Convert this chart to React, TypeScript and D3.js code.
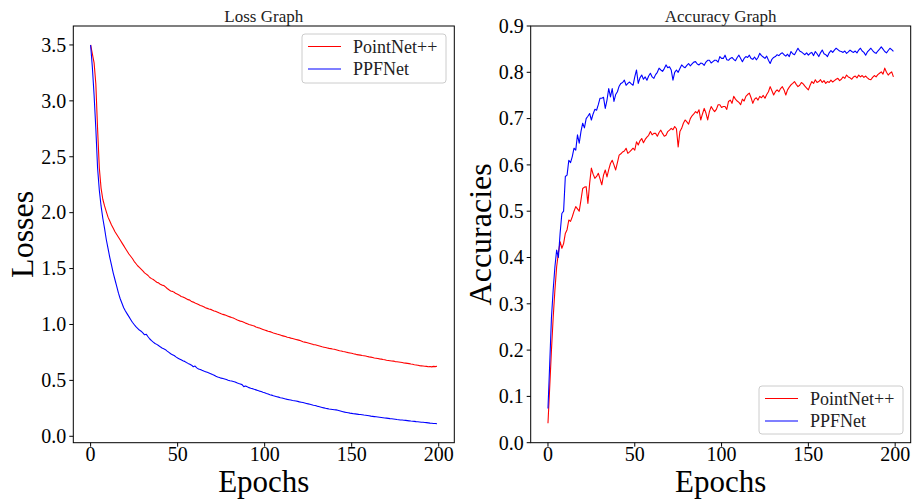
import React from "react";
import * as d3 from "d3";

const lossPointNet = [
  3.50, 3.42, 3.34, 3.15, 2.75, 2.40, 2.22, 2.12, 2.06, 2.01,
  1.96, 1.925, 1.89, 1.86, 1.83, 1.805, 1.78, 1.755, 1.73, 1.705,
  1.68, 1.655, 1.63, 1.61, 1.59, 1.565, 1.545, 1.525, 1.51, 1.495,
  1.48, 1.462, 1.45, 1.438, 1.42, 1.41, 1.402, 1.39, 1.378, 1.372,
  1.36, 1.352, 1.348, 1.336, 1.322, 1.31, 1.30, 1.296, 1.288, 1.276,
  1.27, 1.262, 1.25, 1.246, 1.238, 1.23, 1.222, 1.218, 1.205, 1.2,
  1.192, 1.186, 1.178, 1.17, 1.165, 1.158, 1.15, 1.144, 1.138, 1.135,
  1.128, 1.12, 1.117, 1.11, 1.102, 1.095, 1.09, 1.086, 1.08, 1.074,
  1.068, 1.062, 1.058, 1.05, 1.042, 1.036, 1.03, 1.026, 1.02, 1.012,
  1.006, 1.0, 0.996, 0.99, 0.986, 0.978, 0.972, 0.968, 0.962, 0.956,
  0.95, 0.945, 0.94, 0.936, 0.93, 0.924, 0.92, 0.914, 0.91, 0.905,
  0.9, 0.896, 0.892, 0.886, 0.883, 0.878, 0.874, 0.87, 0.866, 0.862,
  0.858, 0.852, 0.846, 0.842, 0.838, 0.834, 0.83, 0.826, 0.82, 0.818,
  0.814, 0.81, 0.806, 0.8, 0.797, 0.794, 0.79, 0.786, 0.784, 0.78,
  0.778, 0.774, 0.77, 0.765, 0.762, 0.758, 0.756, 0.752, 0.748, 0.745,
  0.742, 0.738, 0.735, 0.73, 0.728, 0.726, 0.722, 0.72, 0.718, 0.714,
  0.71, 0.708, 0.704, 0.7, 0.698, 0.695, 0.692, 0.69, 0.686, 0.684,
  0.68, 0.678, 0.676, 0.674, 0.672, 0.668, 0.666, 0.664, 0.662, 0.66,
  0.656, 0.654, 0.652, 0.65, 0.646, 0.644, 0.64, 0.638, 0.635, 0.632,
  0.63, 0.628, 0.626, 0.625, 0.622, 0.624, 0.621, 0.625, 0.623, 0.626,
];

const lossPPFNet = [
  3.50, 3.30, 3.05, 2.75, 2.40, 2.20, 2.06, 1.95, 1.86, 1.76,
  1.68, 1.60, 1.53, 1.46, 1.40, 1.34, 1.28, 1.23, 1.19, 1.15,
  1.12, 1.095, 1.07, 1.045, 1.02, 1.0, 0.98, 0.965, 0.95, 0.94,
  0.925, 0.908, 0.912, 0.89, 0.87, 0.855, 0.842, 0.83, 0.822, 0.812,
  0.80, 0.79, 0.782, 0.775, 0.762, 0.75, 0.738, 0.73, 0.722, 0.71,
  0.70, 0.692, 0.684, 0.676, 0.67, 0.66, 0.652, 0.645, 0.636, 0.622,
  0.628, 0.612, 0.602, 0.598, 0.59, 0.583, 0.578, 0.572, 0.566, 0.56,
  0.552, 0.545, 0.536, 0.53, 0.526, 0.52, 0.516, 0.512, 0.508, 0.502,
  0.497, 0.494, 0.49, 0.486, 0.478, 0.472, 0.468, 0.462, 0.444, 0.45,
  0.442, 0.435, 0.43, 0.426, 0.42, 0.415, 0.41, 0.404, 0.4, 0.394,
  0.39, 0.383, 0.378, 0.372, 0.368, 0.362, 0.358, 0.354, 0.35, 0.345,
  0.342, 0.338, 0.334, 0.33, 0.327, 0.324, 0.32, 0.318, 0.315, 0.312,
  0.308, 0.305, 0.302, 0.298, 0.294, 0.29, 0.286, 0.282, 0.278, 0.275,
  0.27, 0.266, 0.262, 0.258, 0.254, 0.25, 0.247, 0.244, 0.242, 0.24,
  0.238, 0.236, 0.232, 0.228, 0.224, 0.22, 0.216, 0.213, 0.21, 0.207,
  0.205, 0.202, 0.2, 0.198, 0.196, 0.195, 0.193, 0.19, 0.188, 0.186,
  0.183, 0.18, 0.178, 0.176, 0.174, 0.172, 0.17, 0.168, 0.166, 0.164,
  0.162, 0.16, 0.158, 0.157, 0.155, 0.153, 0.15, 0.148, 0.146, 0.145,
  0.143, 0.142, 0.14, 0.138, 0.136, 0.135, 0.133, 0.131, 0.13, 0.128,
  0.126, 0.125, 0.123, 0.122, 0.12, 0.118, 0.117, 0.115, 0.114, 0.112,
];

const accPointNet = [
  0.042, 0.12, 0.20, 0.27, 0.33, 0.38, 0.41, 0.434, 0.42, 0.43,
  0.452, 0.46, 0.481, 0.478, 0.488, 0.50, 0.51, 0.505, 0.50, 0.524,
  0.549, 0.552, 0.553, 0.517, 0.56, 0.593, 0.58, 0.571, 0.575, 0.582,
  0.57, 0.557, 0.578, 0.589, 0.574, 0.59, 0.603, 0.61, 0.60, 0.589,
  0.605, 0.621, 0.624, 0.628, 0.63, 0.636, 0.625, 0.628, 0.632, 0.636,
  0.632, 0.65, 0.643, 0.652, 0.657, 0.648, 0.655, 0.66, 0.664, 0.672,
  0.665, 0.668, 0.668, 0.662, 0.67, 0.675, 0.668, 0.662, 0.664, 0.672,
  0.675, 0.679, 0.676, 0.683, 0.678, 0.639, 0.672, 0.679, 0.69, 0.697,
  0.693, 0.688, 0.70, 0.706, 0.71, 0.715, 0.712, 0.719, 0.697, 0.71,
  0.722, 0.712, 0.697, 0.715, 0.726, 0.72, 0.715, 0.72, 0.73, 0.73,
  0.724, 0.726, 0.726, 0.72, 0.737, 0.74, 0.733, 0.748, 0.742, 0.738,
  0.735, 0.73, 0.742, 0.738, 0.748, 0.752, 0.755, 0.745, 0.733, 0.742,
  0.745, 0.74, 0.748, 0.745, 0.75, 0.744, 0.752, 0.758, 0.769, 0.76,
  0.751, 0.758, 0.762, 0.758, 0.765, 0.769, 0.762, 0.751, 0.762, 0.768,
  0.773, 0.776, 0.78, 0.774, 0.769, 0.772, 0.778, 0.775, 0.77, 0.766,
  0.762, 0.772, 0.78, 0.776, 0.784, 0.778, 0.78, 0.784, 0.778, 0.782,
  0.776, 0.78, 0.778, 0.783, 0.779, 0.782, 0.785, 0.787, 0.782, 0.785,
  0.79, 0.787, 0.794, 0.79, 0.788, 0.785, 0.79, 0.792, 0.788, 0.794,
  0.79, 0.793, 0.789, 0.792, 0.788, 0.785, 0.784, 0.789, 0.793, 0.79,
  0.795, 0.798, 0.801, 0.796, 0.809, 0.80, 0.794, 0.798, 0.801, 0.79,
];

const accPPFNet = [
  0.074, 0.17, 0.27, 0.33, 0.38, 0.416, 0.40, 0.453, 0.495, 0.50,
  0.575, 0.578, 0.61, 0.605, 0.618, 0.636, 0.632, 0.665, 0.647, 0.672,
  0.69, 0.68, 0.70, 0.705, 0.711, 0.697, 0.71, 0.72, 0.718, 0.73,
  0.744, 0.744, 0.746, 0.722, 0.74, 0.765, 0.747, 0.765, 0.737, 0.752,
  0.758, 0.77, 0.776, 0.778, 0.783, 0.772, 0.776, 0.779, 0.775, 0.772,
  0.79, 0.805, 0.776, 0.788, 0.794, 0.785, 0.79, 0.783, 0.792, 0.798,
  0.79, 0.787, 0.795, 0.80, 0.809, 0.805, 0.802, 0.808, 0.816, 0.81,
  0.812, 0.805, 0.783, 0.80, 0.805, 0.80, 0.808, 0.816, 0.812, 0.81,
  0.815, 0.819, 0.814, 0.818, 0.822, 0.823, 0.818, 0.816, 0.82, 0.819,
  0.815, 0.822, 0.826, 0.826, 0.82, 0.823, 0.826, 0.826, 0.822, 0.834,
  0.83, 0.83, 0.837, 0.827, 0.826, 0.83, 0.832, 0.828, 0.825, 0.832,
  0.837, 0.83, 0.823, 0.83, 0.834, 0.832, 0.837, 0.83, 0.828, 0.833,
  0.827, 0.832, 0.841, 0.836, 0.833, 0.83, 0.835, 0.826, 0.819, 0.828,
  0.832, 0.834, 0.838, 0.836, 0.84, 0.842, 0.838, 0.835, 0.839, 0.834,
  0.845, 0.84, 0.838, 0.845, 0.852, 0.846, 0.844, 0.841, 0.838, 0.842,
  0.837, 0.841, 0.843, 0.836, 0.845, 0.84, 0.834, 0.842, 0.848, 0.84,
  0.838, 0.834, 0.842, 0.847, 0.843, 0.848, 0.852, 0.849, 0.846, 0.845,
  0.843, 0.846, 0.841, 0.844, 0.848, 0.845, 0.843, 0.846, 0.842, 0.848,
  0.852, 0.846, 0.843, 0.837, 0.844, 0.848, 0.852, 0.847, 0.843, 0.841,
  0.846, 0.85, 0.855, 0.85, 0.845, 0.842, 0.847, 0.852, 0.849, 0.845,
];

const seriesNames = ["PointNet++", "PPFNet"];
const seriesColors = ["#ff0000", "#0000ff"];
const xTicks = [0, 50, 100, 150, 200];
const lossTicks = [0, 0.5, 1, 1.5, 2, 2.5, 3, 3.5];
const accTicks = [0, 0.1, 0.2, 0.3, 0.4, 0.5, 0.6, 0.7, 0.8, 0.9];

const FONT = "'Liberation Serif', 'DejaVu Serif', serif";

type PanelProps = {
  left: number;
  right: number;
  top: number;
  bottom: number;
  yDomain: [number, number];
  yTicks: number[];
  series: number[][];
  title: string;
  ylabel: string;
  ylabelX: number;
  legend: { x: number; y: number; w: number; h: number };
};

function Panel(p: PanelProps) {
  const n = p.series[0].length;
  const xPad = (n - 1) * 0.05;
  const x = d3.scaleLinear().domain([-xPad, n - 1 + xPad]).range([p.left, p.right]);
  const y = d3.scaleLinear().domain(p.yDomain).range([p.bottom, p.top]);
  const line = d3
    .line<number>()
    .x((_, i) => x(i))
    .y((d) => y(d));
  const cx = (p.left + p.right) / 2;
  const cy = (p.top + p.bottom) / 2;
  const lg = p.legend;
  const cid = "clip-" + p.title.replace(/\s/g, "");
  return (
    <g>
      <defs>
        <clipPath id={cid}>
          <rect x={p.left} y={p.top} width={p.right - p.left} height={p.bottom - p.top} />
        </clipPath>
      </defs>
      <g clipPath={`url(#${cid})`}>
        {p.series.map((s, i) => (
          <path
            key={i}
            d={line(s) || ""}
            fill="none"
            stroke={seriesColors[i]}
            strokeWidth={1.1}
            strokeLinejoin="round"
          />
        ))}
      </g>
      <rect
        x={p.left}
        y={p.top}
        width={p.right - p.left}
        height={p.bottom - p.top}
        fill="none"
        stroke="#000"
        strokeWidth={1}
      />
      {xTicks.map((t) => (
        <g key={"x" + t}>
          <line x1={x(t)} x2={x(t)} y1={p.bottom} y2={p.bottom + 4} stroke="#000" strokeWidth={1} />
          <text x={x(t)} y={461} textAnchor="middle" fontSize={20} fontFamily={FONT} fill="#000">
            {t}
          </text>
        </g>
      ))}
      {p.yTicks.map((t) => (
        <g key={"y" + t}>
          <line x1={p.left - 4} x2={p.left} y1={y(t)} y2={y(t)} stroke="#000" strokeWidth={1} />
          <text
            x={p.left - 7}
            y={y(t) + 6.8}
            textAnchor="end"
            fontSize={20}
            fontFamily={FONT}
            fill="#000"
          >
            {t.toFixed(1)}
          </text>
        </g>
      ))}
      <text x={cx} y={22} textAnchor="middle" fontSize={17} fontFamily={FONT} fill="#222">
        {p.title}
      </text>
      <text x={cx} y={492} textAnchor="middle" fontSize={31} fontFamily={FONT} fill="#000">
        Epochs
      </text>
      <text
        transform={`translate(${p.ylabelX},${cy}) rotate(-90)`}
        textAnchor="middle"
        fontSize={32}
        fontFamily={FONT}
        fill="#000"
      >
        {p.ylabel}
      </text>
      <rect
        x={lg.x}
        y={lg.y}
        width={lg.w}
        height={lg.h}
        rx={3}
        fill="#fff"
        fillOpacity={0.8}
        stroke="#cccccc"
        strokeWidth={1}
      />
      {seriesNames.map((name, i) => {
        const ly = lg.y + 12.5 + i * 22.5;
        return (
          <g key={name}>
            <line x1={lg.x + 6} x2={lg.x + 39} y1={ly} y2={ly} stroke={seriesColors[i]} strokeWidth={1.1} />
            <text x={lg.x + 51} y={ly + 6.3} fontSize={18} fontFamily={FONT} fill="#222">
              {name}
            </text>
          </g>
        );
      })}
    </g>
  );
}

export default function App() {
  const lossAll = [...lossPointNet, ...lossPPFNet];
  const lmin = d3.min(lossAll) as number;
  const lmax = d3.max(lossAll) as number;
  const lpad = (lmax - lmin) * 0.05;
  return (
    <svg
      width={914}
      height={500}
      style={{ position: "absolute", left: 0, top: 0, background: "#fff" }}
    >
      <rect x={0} y={0} width={914} height={500} fill="#fff" />
      <Panel
        left={73.3}
        right={454.3}
        top={26}
        bottom={442.7}
        yDomain={[lmin - lpad, lmax + lpad]}
        yTicks={lossTicks}
        series={[lossPointNet, lossPPFNet]}
        title="Loss Graph"
        ylabel="Losses"
        ylabelX={33}
        legend={{ x: 302, y: 34, w: 144, h: 49 }}
      />
      <Panel
        left={530.7}
        right={910.7}
        top={26}
        bottom={442.7}
        yDomain={[0, 0.9]}
        yTicks={accTicks}
        series={[accPointNet, accPPFNet]}
        title="Accuracy Graph"
        ylabel="Accuracies"
        ylabelX={490.5}
        legend={{ x: 759, y: 386, w: 144, h: 48 }}
      />
    </svg>
  );
}
